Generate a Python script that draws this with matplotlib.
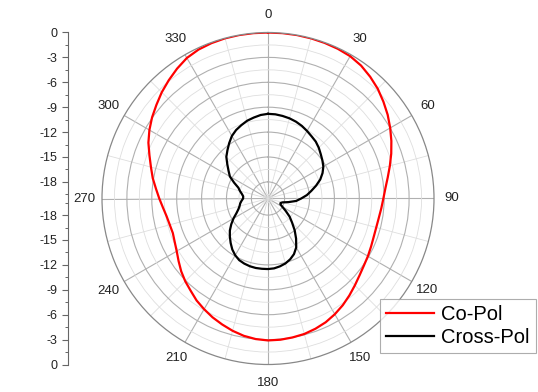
import numpy as np
import matplotlib
matplotlib.use('Agg')
import matplotlib.pyplot as plt
from matplotlib.ticker import FixedLocator

plt.rcParams['font.family'] = ['Liberation Sans', 'DejaVu Sans']

# ---------------- data (dB vs angle in degrees) ----------------
angles_deg = list(range(0, 360, 5))
co_pol = [0.0, 0.0, 0.0, -0.02, -0.05, -0.1, -0.2, -0.45, -0.85, -1.3, -1.85, -2.4,
          -3.0, -3.6, -4.2, -4.8, -5.35, -5.8, -6.1, -6.3, -6.45, -6.5, -6.45, -6.3,
          -6.1, -5.9, -5.6, -5.2, -4.75, -4.3, -3.9, -3.55, -3.3, -3.1, -3.0, -2.92,
          -2.9, -3.0, -3.2, -3.5, -3.85, -4.2, -4.6, -5.0, -5.5, -5.9, -6.35, -6.85,
          -7.3, -7.6, -7.8, -7.75, -7.6, -7.3, -6.9, -6.45, -5.9, -5.4, -4.8, -4.1,
          -3.5, -2.95, -2.45, -1.9, -1.4, -0.9, -0.45, -0.2, -0.08, -0.02, 0.0, 0.0]
cross_pol = [-9.8, -9.82, -9.9, -10.0, -10.15, -10.35, -10.6, -10.85, -11.05, -11.35, -11.7, -12.0,
             -12.3, -12.75, -13.3, -14.0, -14.7, -15.3, -16.0, -16.6, -17.5, -18.2, -18.4, -18.35,
             -18.0, -17.4, -16.6, -15.9, -15.0, -14.1, -13.2, -12.6, -12.2, -11.9, -11.7, -11.55,
             -11.5, -11.5, -11.5, -11.55, -11.65, -11.8, -12.1, -12.5, -13.0, -13.5, -14.0, -14.6,
             -15.2, -15.8, -16.2, -16.45, -16.6, -16.8, -17.0, -17.0, -16.8, -16.5, -16.2, -15.5,
             -14.7, -14.2, -13.6, -12.9, -12.4, -11.85, -11.3, -10.9, -10.6, -10.3, -10.1, -9.9]
angle_ticks = [0, 30, 60, 90, 120, 150, 180, 210, 240, 270, 300, 330]
angle_labels = ['0', '30', '60', '90', '120', '150', '180', '210', '240', '270', '300', '330']
r_ticks = [0, -3, -6, -9, -12, -15, -18]
r_min, r_max = -20, 0
series_names = ['Co-Pol', 'Cross-Pol']
series_colors = ['#ff0000', '#000000']

# ---------------- layout ----------------
W, H = 538, 392
cx, cy, R = 268, 198.5, 166
fig = plt.figure(figsize=(W / 100, H / 100), dpi=100)
ax = fig.add_axes([(cx - R) / W, (H - cy - R) / H, 2 * R / W, 2 * R / H], projection='polar')
ax.set_theta_zero_location('N')
ax.set_theta_direction(-1)
ax.set_ylim(r_min, r_max)

ax.set_yticks([t for t in r_ticks if t > r_min and t < r_max])
ax.set_yticklabels([])
ax.yaxis.set_minor_locator(FixedLocator([t - 1.5 for t in r_ticks]))
ax.set_xticks(np.deg2rad(angle_ticks))
ax.set_xticklabels([])
ax.xaxis.set_minor_locator(FixedLocator(np.deg2rad([a + 15 for a in angle_ticks])))
ax.grid(which='major', color='#b0b0b0', lw=0.8)
ax.grid(which='minor', color='#dedede', lw=0.6)
ax.tick_params(axis='y', which='both', length=0)
ax.tick_params(axis='x', which='major', length=0)
ax.tick_params(axis='x', which='minor', length=3, direction='in', color='#777777', width=0.8)
ax.spines['polar'].set_color('#888888')
ax.spines['polar'].set_linewidth(0.9)

th = np.deg2rad(angles_deg + [360])
for name, vals, col in zip(series_names, [co_pol, cross_pol], series_colors):
    ax.plot(th, vals + [vals[0]], color=col, lw=1.6, label=name)

# angle labels outside circle
lab_r = 0.5 * 184 / R
for a, lab in zip(angle_ticks, angle_labels):
    t = np.deg2rad(a)
    ax.text(0.5 + lab_r * np.sin(t), 0.5 + lab_r * np.cos(t), lab, transform=ax.transAxes,
            ha='center', va='center', fontsize=9.5, color='#222222')

# left mirrored dB axis
lax = fig.add_axes([68 / W, (H - cy - R) / H, 0.0001, 2 * R / H])
lax.set_ylim(-(r_max - r_min), (r_max - r_min))
lax.set_xticks([])
for s in ['top', 'right', 'bottom']:
    lax.spines[s].set_visible(False)
lax.spines['left'].set_color('#666666')
lax.spines['left'].set_linewidth(0.8)
pos = [t - r_min for t in r_ticks]
lax.set_yticks(pos + [-p for p in pos])
lax.set_yticklabels([str(t) for t in r_ticks] * 2)
mpos = [t - 1.5 - r_min for t in r_ticks]
lax.yaxis.set_minor_locator(FixedLocator(mpos + [-p for p in mpos]))
lax.tick_params(axis='y', which='major', length=4, width=0.8, color='#666666', labelsize=9,
                pad=3.5, labelcolor='#222222')
lax.tick_params(axis='y', which='minor', length=2.4, width=0.7, color='#666666')
lax.patch.set_visible(False)

leg = fig.legend(loc='lower right', bbox_to_anchor=(536 / W, (H - 353) / H),
                 fontsize=14.5, frameon=True, fancybox=False, edgecolor='#999999',
                 handlelength=2.4, handletextpad=0.35, borderpad=0.3, labelspacing=0.2,
                 borderaxespad=0)
leg.get_frame().set_linewidth(0.8)
leg.set_zorder(10)

fig.savefig('out.png', dpi=100)
